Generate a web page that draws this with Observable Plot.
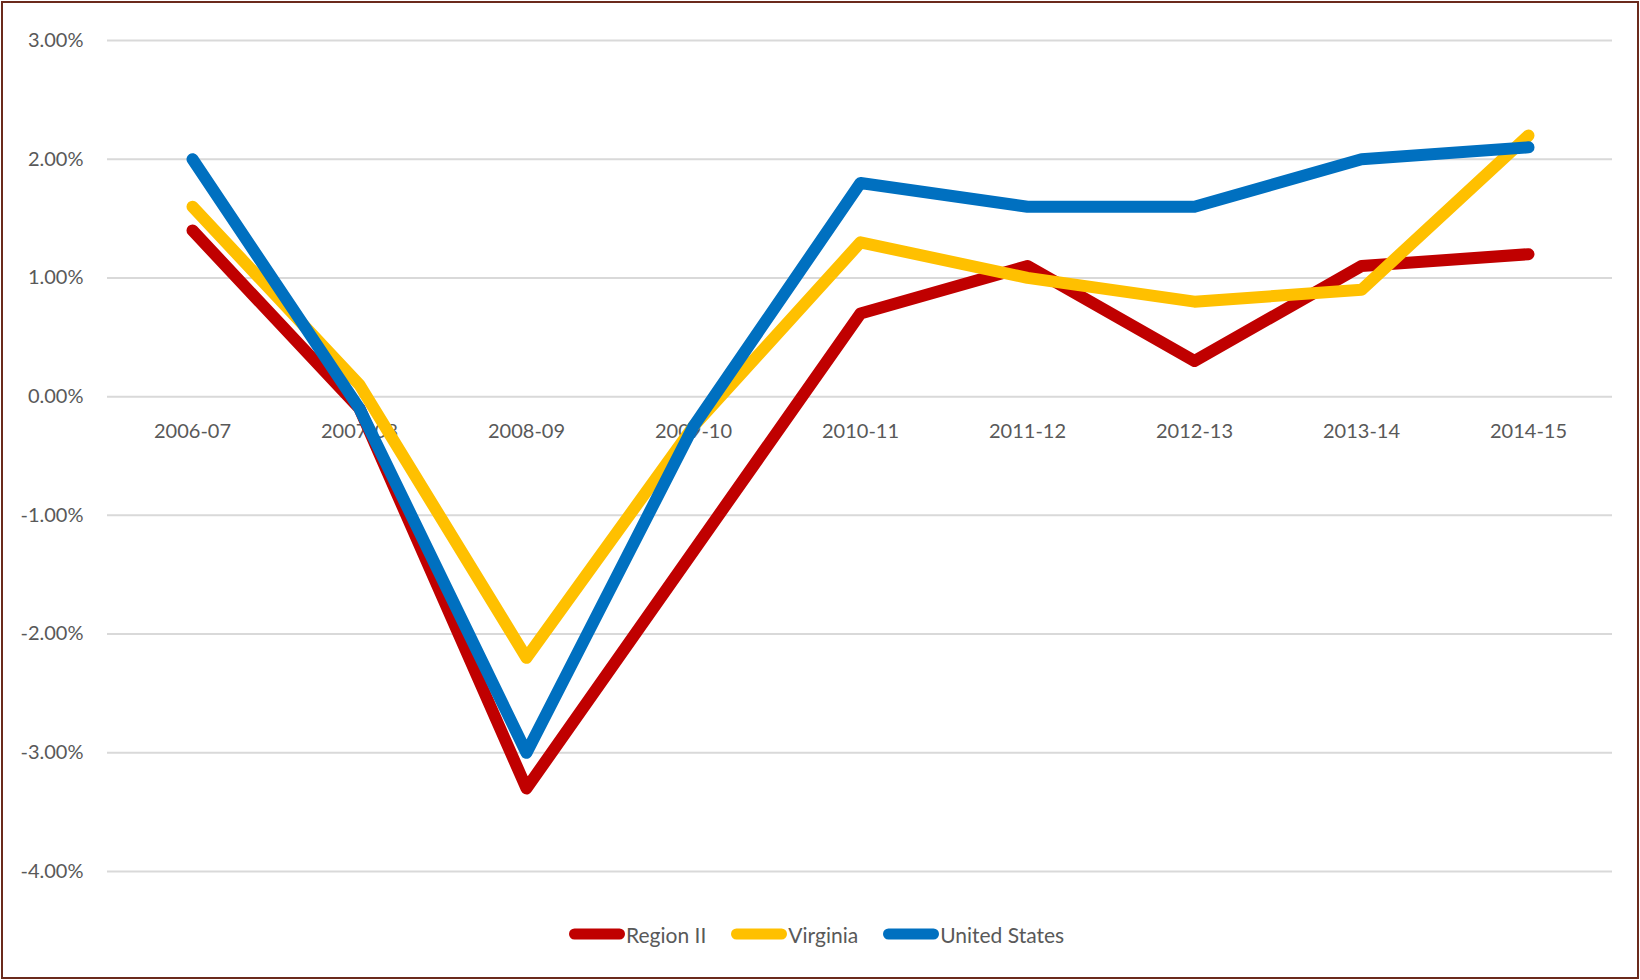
<!DOCTYPE html>
<html>
<head>
<meta charset="utf-8">
<script src="https://cdn.jsdelivr.net/npm/d3@7"></script>
<script src="https://cdn.jsdelivr.net/npm/@observablehq/plot@0.6"></script>
<style>
  html, body { margin: 0; padding: 0; background: #fff; }
  body { width: 1640px; height: 980px; position: relative; overflow: hidden;
         font-family: Lato, "DejaVu Sans Condensed", sans-serif; }
  #chart { position: absolute; left: 0; top: 0; }
  #legend { position: absolute; left: 569px; top: 900px; height: 68px; display: flex; align-items: center;
            font-size: 21px; color: #595959; }
  .item { display: flex; align-items: center; margin-right: 25px; }
  .item svg { display: block; margin-right: 1px; }
  #frame { position: absolute; left: 1px; top: 1px; width: 1638px; height: 978px; box-sizing: border-box;
           border: 2px solid #6b2a1c; pointer-events: none; }
</style>
</head>
<body>
<div id="chart"></div>
<div id="legend"></div>
<div id="frame"></div>
<script>
// Categories (school years)
const years = ["2006-07", "2007-08", "2008-09", "2009-10", "2010-11", "2011-12", "2012-13", "2013-14", "2014-15"];
// Series values (percent)
const regionII     = [1.4, -0.1, -3.3, -1.3, 0.7, 1.1, 0.3, 1.1, 1.2];
const virginia     = [1.6,  0.1, -2.2, -0.25, 1.3, 1.0, 0.8, 0.9, 2.2];
const unitedStates = [2.0, -0.1, -3.0, -0.25, 1.8, 1.6, 1.6, 2.0, 2.1];
// Series names and colours
const seriesNames  = ["Region II", "Virginia", "United States"];
const seriesColors = ["#C00000", "#FFC000", "#0070C0"];
// Y tick values
const yTicks = [-4, -3, -2, -1, 0, 1, 2, 3];

const seriesValues = [regionII, virginia, unitedStates];
const rows = [];
seriesNames.forEach((name, i) => {
  years.forEach((yr, j) => rows.push({series: name, year: yr, value: seriesValues[i][j]}));
});

const fmt = d => d.toFixed(2) + "%";

const chart = Plot.plot({
  width: 1640,
  height: 900,
  marginLeft: 107,
  marginRight: 28,
  marginTop: 40,
  marginBottom: 29,
  style: {
    fontFamily: 'Lato, "DejaVu Sans Condensed", sans-serif',
    fontSize: "20px",
    color: "#595959",
    background: "transparent"
  },
  x: {type: "point", domain: years, padding: 0.5, axis: null},
  y: {domain: [-4, 3], axis: null},
  color: {domain: seriesNames, range: seriesColors},
  marks: [
    Plot.ruleY(yTicks, {stroke: "#d9d9d9", strokeWidth: 2}),
    Plot.axisY({ticks: yTicks, tickSize: 0, tickPadding: 24, tickFormat: fmt, label: null, fontSize: 20, fill: "#595959"}),
    Plot.text(years, {x: d => d, y: () => 0, dy: 35, text: d => d, fontSize: 20, fill: "#595959"}),
    Plot.line(rows, {x: "year", y: "value", z: "series", stroke: "series",
                     strokeWidth: 12, strokeLinecap: "round", strokeLinejoin: "round"})
  ]
});
document.getElementById("chart").appendChild(chart);

const legend = document.getElementById("legend");
seriesNames.forEach((name, i) => {
  const item = document.createElement("div");
  item.className = "item";
  item.innerHTML = `<svg width="56" height="14"><line x1="5.5" y1="7" x2="50.5" y2="7" stroke="${seriesColors[i]}" stroke-width="11" stroke-linecap="round"/></svg><span>${name}</span>`;
  legend.appendChild(item);
});
</script>
</body>
</html>
